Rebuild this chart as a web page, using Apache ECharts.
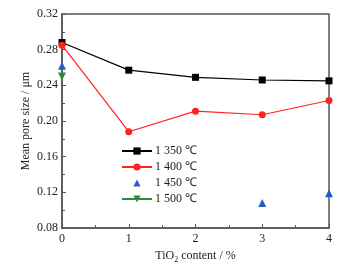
<!DOCTYPE html>
<html>
<head>
<meta charset="utf-8">
<script src="https://cdn.jsdelivr.net/npm/echarts@6/dist/echarts.min.js"></script>
<style>html,body{margin:0;padding:0;background:#fff}#main{width:353px;height:265px}</style>
</head>
<body>
<div id="main"></div>
<script>
// TiO2 content (%)
var xCats = [0, 1, 2, 3, 4];
var s1350 = [0.288, 0.257, 0.249, 0.246, 0.245];
var s1400 = [0.285, 0.188, 0.211, 0.207, 0.223];
var s1450 = [[0, 0.262], [3, 0.108], [4, 0.119]];
var s1500 = [[0, 0.250]];
var names = ['1 350 ℃', '1 400 ℃', '1 450 ℃', '1 500 ℃'];

function pairs(arr){
	return arr.map(function(v, i){ return [xCats[i], v]; });
}
var font = 'Liberation Serif';

var chart = echarts.init(document.getElementById('main'));
chart.setOption({
	animation:false,
	textStyle:{fontFamily:font, color:'#222'},
	grid:{
		left:62, right:24, top:14, bottom:37,
		outerBoundsMode:'none',
		containLabel:false,
		show:true, borderColor:'#555', borderWidth:1.5
	},
	legend:{
		orient:'vertical',
		left:116, top:140,
		itemWidth:30, itemHeight:9, itemGap:4,
		textStyle:{fontFamily:font, fontSize:12, color:'#222', padding:[0,0,0,-2]},
		data:names
	},
	xAxis:{
		type:'value', min:0, max:4, interval:1,
		name:'{a|TiO}{b|2}{a| content / %}',
		nameLocation:'middle', nameGap:18,
		nameTextStyle:{
			rich:{
				a:{fontFamily:font, fontSize:12, color:'#222'},
				b:{fontFamily:font, fontSize:8, color:'#222', padding:[8,0,0,0]}
			}
		},
		axisLine:{lineStyle:{color:'#555', width:1.5}},
		axisTick:{inside:true, length:4, lineStyle:{color:'#555'}},
		minorTick:{show:true, splitNumber:2, length:3, lineStyle:{color:'#555'}},
		splitLine:{show:false},
		axisLabel:{fontFamily:font, fontSize:12, color:'#222', margin:5}
	},
	yAxis:{
		type:'value', min:0.08, max:0.32, interval:0.04,
		name:'Mean pore size / μm',
		nameLocation:'middle', nameGap:30,
		nameMoveOverlap:false,
		nameTextStyle:{fontFamily:font, fontSize:12, color:'#222'},
		axisLine:{show:true, lineStyle:{color:'#555', width:1.5}},
		axisTick:{inside:true, length:4, lineStyle:{color:'#555'}},
		minorTick:{show:true, splitNumber:2, length:3, lineStyle:{color:'#555'}},
		splitLine:{show:false},
		axisLabel:{
			fontFamily:font, fontSize:12, color:'#222', margin:4,
			formatter:function(v){ return v.toFixed(2); }
		}
	},
	series:[
		{
			name:names[0], type:'line', data:pairs(s1350),
			symbol:'rect', symbolSize:7,
			itemStyle:{color:'#000'},
			lineStyle:{color:'#000', width:1.2}
		},{
			name:names[1], type:'line', data:pairs(s1400),
			symbol:'circle', symbolSize:7,
			itemStyle:{color:'#f22'},
			lineStyle:{color:'#f22', width:1.2}
		},{
			// markers only, no connecting line
			name:names[2], type:'line', data:s1450,
			symbol:'triangle', symbolSize:8,
			itemStyle:{color:'#2a5cc8'},
			lineStyle:{width:0, opacity:0}
		},{
			name:names[3], type:'line', data:s1500,
			symbol:'triangle', symbolRotate:180, symbolSize:8,
			itemStyle:{color:'#2e8b3e'},
			lineStyle:{color:'#2e8b3e', width:1.2}
		}
	]
});
</script>
</body>
</html>
